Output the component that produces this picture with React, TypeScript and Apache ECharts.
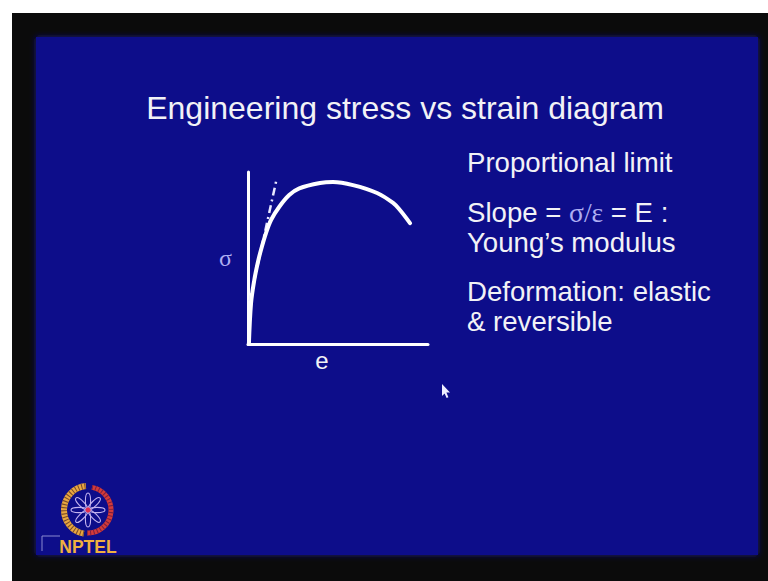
import React, { useEffect, useRef } from "react";
import * as echarts from "echarts";

// Engineering stress–strain curve (arbitrary units, 0–100 on both axes)
const strain = [0.5, 1.7, 3.5, 5.4, 7.2, 10.0, 12.8, 17.4, 22.9, 28.5, 40.0, 47.2, 58.3, 71.7, 80.6, 84.4, 90.0];
const stress = [0, 23.8, 37.2, 47.1, 54.7, 64.5, 72.1, 79.8, 86.6, 90.5, 93.6, 94.2, 92.4, 87.8, 82.0, 77.9, 70.3];

// Tangent to the linear (elastic) part: slope = Young's modulus
const tangentStrain = [1.0, 15.6];
const tangentStress = [25, 94.4];

const titleText = "Engineering stress vs strain diagram";
const notes = [
  "Proportional limit",
  "Slope = {g|σ/ε} = E :",
  "Young’s modulus",
  "Deformation: elastic",
  "& reversible",
];
const noteBaselines = [172, 222, 252, 301, 331];

const SANS = '"Liberation Sans", Arial, Helvetica, sans-serif';
const SERIF = '"Liberation Serif", "Times New Roman", serif';
const SLIDE_BLUE = "#0f0f8a";
const LAVENDER = "#aeaef2";
const NOTE_SIZE = 27.6;

function logoElements(cx: number, cy: number): any[] {
  const els: any[] = [];
  const deg = Math.PI / 180;
  // gold crescent on the left with stripes
  els.push({
    type: "arc",
    shape: { cx, cy, r: 24, startAngle: 100 * deg, endAngle: 265 * deg, clockwise: true },
    style: { stroke: "#e8a640", lineWidth: 6, fill: "none" },
  });
  els.push({
    type: "arc",
    shape: { cx, cy, r: 24, startAngle: 100 * deg, endAngle: 265 * deg, clockwise: true },
    style: { stroke: "#7a4a2a", lineWidth: 6, fill: "none", lineDash: [1, 2.2] },
  });
  // red crescent on the right
  els.push({
    type: "arc",
    shape: { cx, cy, r: 23, startAngle: -80 * deg, endAngle: 92 * deg, clockwise: true },
    style: { stroke: "#d23a3a", lineWidth: 5, fill: "none" },
  });
  els.push({
    type: "arc",
    shape: { cx, cy, r: 23, startAngle: -80 * deg, endAngle: 92 * deg, clockwise: true },
    style: { stroke: "#7a2040", lineWidth: 5, fill: "none", lineDash: [1, 2.4] },
  });
  // eight-petal flower
  for (let k = 0; k < 8; k++) {
    els.push({
      type: "ellipse",
      shape: { cx: cx + 9, cy, rx: 8, ry: 2.6 },
      rotation: (k * Math.PI) / 4,
      originX: cx,
      originY: cy,
      style: { stroke: "#c4b4f0", lineWidth: 1.1, fill: "none" },
    });
  }
  els.push({ type: "circle", shape: { cx, cy, r: 2.6 }, style: { fill: "#e03050" } });
  return els;
}

export default function App() {
  const ref = useRef<HTMLDivElement>(null);

  useEffect(() => {
    if (!ref.current) return;
    const chart = echarts.init(ref.current, undefined, { renderer: "svg" });

    const curve = strain.map((x, i) => [x, stress[i]]);
    const tangent = tangentStrain.map((x, i) => [x, tangentStress[i]]);

    const graphics: any[] = [
      // dark frame and slide
      { type: "rect", z: -10, shape: { x: 12, y: 13, width: 756, height: 568 }, style: { fill: "#0b0b0b" } },
      {
        type: "rect",
        z: -9,
        shape: { x: 36, y: 37, width: 722, height: 518 },
        style: { fill: SLIDE_BLUE, shadowBlur: 6, shadowColor: "rgba(20,20,160,0.8)" },
      },
      {
        type: "text",
        z: 10,
        style: {
          text: titleText,
          x: 405,
          y: 119 - 0.35 * 32,
          align: "center",
          verticalAlign: "middle",
          fontSize: 32,
          fontFamily: SANS,
          fill: "#f2f2f6",
        },
      },
      ...notes.map((t, i) => ({
        type: "text",
        z: 10,
        style: {
          text: t,
          x: 467,
          y: noteBaselines[i] - 0.35 * NOTE_SIZE,
          align: "left",
          verticalAlign: "middle",
          fontSize: NOTE_SIZE,
          fontFamily: SANS,
          fill: "#f2f2f6",
          rich: {
            g: { fontSize: NOTE_SIZE, fontFamily: SERIF, fill: LAVENDER },
          },
        },
      })),
      // mouse pointer
      {
        type: "polygon",
        z: 10,
        shape: {
          points: [
            [442, 384],
            [442, 396],
            [444.6, 393.4],
            [446.6, 398],
            [448.4, 397.2],
            [446.4, 392.6],
            [450, 392.4],
          ],
        },
        style: { fill: "#eeeeff" },
      },
      ...logoElements(88, 510),
      {
        type: "polyline",
        z: 10,
        shape: { points: [[42, 551], [42, 536], [60, 536]] },
        style: { stroke: "#8a8ad0", lineWidth: 1, fill: "none" },
      },
      {
        type: "text",
        z: 10,
        style: {
          text: "NPTEL",
          x: 88,
          y: 547,
          align: "center",
          verticalAlign: "middle",
          fontSize: 17.5,
          fontWeight: "bold",
          fontFamily: SANS,
          fill: "#f0b040",
        },
      },
    ];

    chart.setOption({
      animation: false,
      backgroundColor: "#ffffff",
      grid: { left: 248, top: 172, width: 180, height: 172 },
      xAxis: {
        type: "value",
        min: 0,
        max: 100,
        z: 5,
        name: "e",
        nameLocation: "middle",
        nameGap: 4,
        nameTextStyle: { color: "#f2f2f6", fontSize: 24, fontFamily: SANS, padding: [0, 32, 0, 0] },
        axisLine: { show: true, lineStyle: { color: "#ffffff", width: 3 } },
        axisTick: { show: false },
        axisLabel: { show: false },
        splitLine: { show: false },
      },
      yAxis: {
        type: "value",
        min: 0,
        max: 100,
        z: 5,
        name: "σ",
        nameLocation: "middle",
        nameRotate: 0,
        nameGap: 16,
        nameTextStyle: { color: LAVENDER, fontSize: 24, fontFamily: SERIF },
        axisLine: { show: true, lineStyle: { color: "#ffffff", width: 3 } },
        axisTick: { show: false },
        axisLabel: { show: false },
        splitLine: { show: false },
      },
      graphic: graphics,
      series: [
        {
          type: "line",
          data: tangent,
          symbol: "none",
          z: 6,
          lineStyle: { color: "#e8e8ff", width: 2.5, type: [8, 4, 2, 4] },
        },
        {
          type: "line",
          data: curve,
          symbol: "none",
          smooth: 0.35,
          z: 7,
          lineStyle: { color: "#ffffff", width: 4, cap: "round" },
        },
      ],
    });

    return () => chart.dispose();
  }, []);

  return (
    <div
      ref={ref}
      style={{ position: "fixed", left: 0, top: 0, width: 768, height: 581 }}
    />
  );
}
